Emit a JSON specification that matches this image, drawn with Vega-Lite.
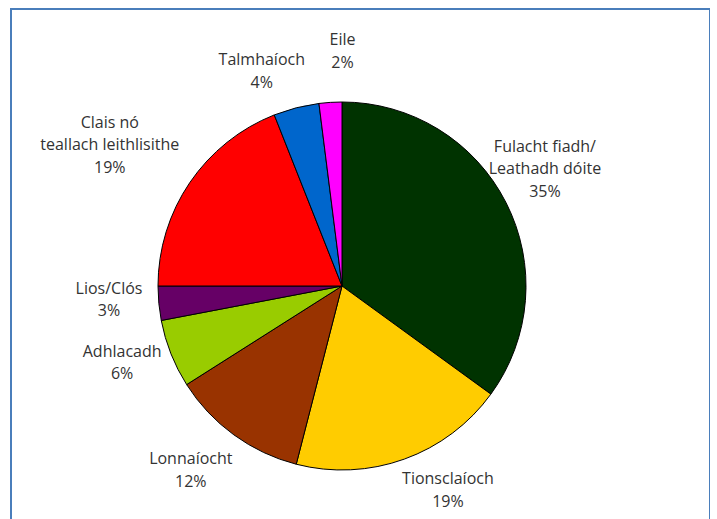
{
  "$schema": "https://vega.github.io/schema/vega-lite/v6.json",
  "autosize": "none",
  "width": 699,
  "height": 554,
  "padding": {"left": 11, "top": 9, "right": 0, "bottom": 0},
  "background": "white",
  "view": {"stroke": "#4a7ebb", "strokeWidth": 2, "fill": "white"},
  "config": {
    "view": {"stroke": "#4a7ebb", "strokeWidth": 2},
    "text": {"font": "Open Sans", "fontSize": 16, "fill": "#333333", "lineHeight": 22.5, "lineBreak": "\n", "align": "center", "baseline": "middle"}
  },
  "data": {
    "values": [
      {"order": 1, "category": "Fulacht fiadh/Leathadh dóite", "value": 35, "label": "Fulacht fiadh/\nLeathadh dóite\n35%"},
      {"order": 2, "category": "Tionsclaíoch", "value": 19, "label": "Tionsclaíoch\n19%"},
      {"order": 3, "category": "Lonnaíocht", "value": 12, "label": "Lonnaíocht\n12%"},
      {"order": 4, "category": "Adhlacadh", "value": 6, "label": "Adhlacadh\n6%"},
      {"order": 5, "category": "Lios/Clós", "value": 3, "label": "Lios/Clós\n3%"},
      {"order": 6, "category": "Clais nó teallach leithlisithe", "value": 19, "label": "Clais nó\nteallach leithlisithe\n19%"},
      {"order": 7, "category": "Talmhaíoch", "value": 4, "label": "Talmhaíoch\n4%"},
      {"order": 8, "category": "Eile", "value": 2, "label": "Eile\n2%"}
    ]
  },
  "encoding": {
    "theta": {"field": "value", "type": "quantitative", "stack": true},
    "order": {"field": "order", "type": "quantitative"}
  },
  "layer": [
    {
      "mark": {"type": "arc", "outerRadius": 184, "stroke": "black", "strokeWidth": 1, "xOffset": -18.5},
      "encoding": {
        "color": {
          "field": "category",
          "type": "nominal",
          "legend": null,
          "scale": {
            "domain": ["Fulacht fiadh/Leathadh dóite", "Tionsclaíoch", "Lonnaíocht", "Adhlacadh", "Lios/Clós", "Clais nó teallach leithlisithe", "Talmhaíoch", "Eile"],
            "range": ["#003300", "#ffcc00", "#993300", "#99cc00", "#660066", "#ff0000", "#0066cc", "#ff00ff"]
          }
        }
      }
    },
    {
      "mark": {"type": "text", "radius": 230, "xOffset": -18.5, "dx": -2, "dy": -35},
      "encoding": {
        "text": {"condition": {"test": "datum.category === 'Fulacht fiadh/Leathadh dóite'", "field": "label", "type": "nominal"}, "value": ""}
      }
    },
    {
      "mark": {"type": "text", "radius": 230, "xOffset": -18.5, "dx": 28, "dy": -23},
      "encoding": {
        "text": {"condition": {"test": "datum.category === 'Tionsclaíoch'", "field": "label", "type": "nominal"}, "value": ""}
      }
    },
    {
      "mark": {"type": "text", "radius": 230, "xOffset": -18.5, "dx": -16, "dy": -13},
      "encoding": {
        "text": {"condition": {"test": "datum.category === 'Lonnaíocht'", "field": "label", "type": "nominal"}, "value": ""}
      }
    },
    {
      "mark": {"type": "text", "radius": 230, "xOffset": -18.5, "dx": -6, "dy": -19},
      "encoding": {
        "text": {"condition": {"test": "datum.category === 'Adhlacadh'", "field": "label", "type": "nominal"}, "value": ""}
      }
    },
    {
      "mark": {"type": "text", "radius": 230, "xOffset": -18.5, "dx": -4, "dy": -19},
      "encoding": {
        "text": {"condition": {"test": "datum.category === 'Lios/Clós'", "field": "label", "type": "nominal"}, "value": ""}
      }
    },
    {
      "mark": {"type": "text", "radius": 230, "xOffset": -18.5, "dx": -42, "dy": -34},
      "encoding": {
        "text": {"condition": {"test": "datum.category === 'Clais nó teallach leithlisithe'", "field": "label", "type": "nominal"}, "value": ""}
      }
    },
    {
      "mark": {"type": "text", "radius": 230, "xOffset": -18.5, "dx": -23, "dy": -3},
      "encoding": {
        "text": {"condition": {"test": "datum.category === 'Talmhaíoch'", "field": "label", "type": "nominal"}, "value": ""}
      }
    },
    {
      "mark": {"type": "text", "radius": 230, "xOffset": -18.5, "dx": 15, "dy": -16},
      "encoding": {
        "text": {"condition": {"test": "datum.category === 'Eile'", "field": "label", "type": "nominal"}, "value": ""}
      }
    }
  ]
}
